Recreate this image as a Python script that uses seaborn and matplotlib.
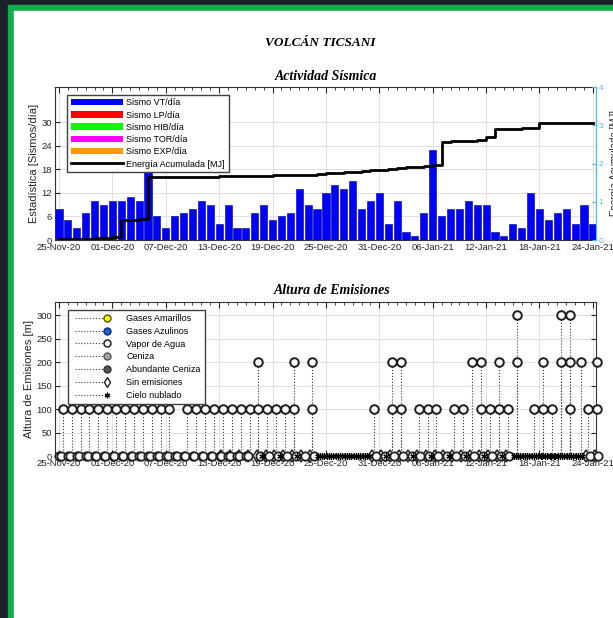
import matplotlib
matplotlib.use("Agg")
import matplotlib.pyplot as plt
from matplotlib.patches import Rectangle, Patch
from matplotlib.lines import Line2D
from matplotlib.legend_handler import HandlerLine2D
import seaborn as sns
import pandas as pd
import numpy as np

# ---- data ----
dates = pd.date_range("2020-11-25", "2021-01-24", freq="D")
date_labels = [d.strftime("%d-%b-%y") for d in dates]

vt_per_day = [8, 5, 3, 7, 10, 9, 10, 10, 11, 10, 19, 6, 3, 6, 7, 8, 10, 9, 4, 9,
              3, 3, 7, 9, 5, 6, 7, 13, 9, 8, 12, 14, 13, 15, 8, 10, 12, 4, 10, 2,
              1, 7, 23, 6, 8, 8, 10, 9, 9, 2, 1, 4, 3, 12, 8, 5, 7, 8, 4, 9, 4]

energy_mj = [0.02, 0.02, 0.03, 0.03, 0.04, 0.05, 0.09, 0.52, 0.53, 0.55,
             1.64, 1.64, 1.65, 1.65, 1.65, 1.66, 1.66, 1.66, 1.67, 1.67,
             1.67, 1.68, 1.68, 1.68, 1.69, 1.69, 1.70, 1.70, 1.71, 1.72,
             1.74, 1.75, 1.77, 1.79, 1.81, 1.83, 1.84, 1.86, 1.89, 1.90,
             1.92, 1.93, 1.97, 2.57, 2.58, 2.59, 2.60, 2.61, 2.68, 2.89,
             2.90, 2.91, 2.92, 2.94, 3.05, 3.05, 3.05, 3.05, 3.06, 3.06, 3.06]

# water vapour plumes (day index from 25-Nov-20) by height
vapor_100_days = [0, 1, 2, 3, 4, 5, 6, 7, 8, 9, 10, 11, 12, 14, 15, 16, 17, 18, 19, 20,
                  21, 22, 23, 24, 25, 26, 28, 35, 37, 38, 40, 41, 42, 44, 45, 47, 48,
                  49, 50, 53, 54, 55, 57, 59, 60]
vapor_200_days = [22, 26, 28, 37, 38, 46, 47, 49, 51, 54, 56, 57, 58.3, 60]
vapor_300_days = [51, 56, 57]
report_hour = 10

# zero-height reports
vapor_zero_early_days = [0, 1, 2, 3, 4, 5, 6, 7, 8, 9, 10, 11, 12, 13, 14, 15, 16, 17,
                         18, 19, 20, 21]
vapor_zero_hours = [1, 5]
vapor_zero_late_days = [22, 23, 24, 25, 26, 27, 28, 35, 36, 37, 38, 39, 40, 41, 42, 43,
                        44, 45, 46, 47, 48, 49, 50, 59, 60]
sin_emision_days = [18, 19, 20, 21, 22, 23, 24, 25, 26, 27, 28, 35, 36, 37, 38, 39, 40,
                    41, 42, 43, 44, 45, 46, 47, 48, 49, 50, 59, 60]
nublado_dense_days = [29, 30, 31, 32, 33, 34, 51, 52, 53, 54, 55, 56, 57, 58]
nublado_sparse_days = [22, 24, 26, 36, 39, 41, 43, 45, 47, 49]
nublado_hours = [3, 8, 14, 19]

legend_sismo = ["Sismo VT/día", "Sismo LP/día", "Sismo HIB/día", "Sismo TOR/día", "Sismo EXP/día"]
sismo_colors = ["#0000ff", "#ff0000", "#00ff00", "#ff00ff", "#ff9900"]


class StemHandler(HandlerLine2D):
    # dotted stem with the marker only at the right end, like MATLAB stem legends
    def create_artists(self, legend, orig_handle, xdescent, ydescent, width, height,
                       fontsize, trans):
        arts = super().create_artists(legend, orig_handle, xdescent, ydescent, width,
                                      height, fontsize, trans)
        for a in arts:
            if isinstance(a, Line2D):
                a.set_markevery([len(a.get_xdata()) - 1])
        return arts


# ---- figure ----
plt.rcParams["font.family"] = ["Liberation Sans", "DejaVu Sans"]
W, H = 613, 618
fig = plt.figure(figsize=(W / 100, H / 100), dpi=100)
fig.patch.set_facecolor("#1b202b")
fig.add_artist(Rectangle((8 / W, 0), 1, 1 - 4.5 / H, transform=fig.transFigure,
                         color="#14ad4c", zorder=-10))
fig.add_artist(Rectangle((14 / W, 0), 1, 1 - 11 / H, transform=fig.transFigure,
                         color="white", zorder=-9))

serif = dict(family="Liberation Serif", weight="bold", style="italic", ha="center", va="center")
fig.text(320 / W, 1 - 43 / H, "VOLCÁN TICSANI", fontsize=9.5, **serif)
fig.text(326 / W, 1 - 76 / H, "Actividad Sísmica", fontsize=10, **serif)
fig.text(332 / W, 1 - 291 / H, "Altura de Emisiones", fontsize=10, **serif)

ax1 = fig.add_axes([55 / W, 1 - 240 / H, 541 / W, 153 / H])
ax2 = fig.add_axes([55 / W, 1 - 456 / H, 541 / W, 154 / H])

days = np.arange(len(dates))
tick_color = "#262626"
grid_kw = dict(color="#dcdcdc", linewidth=0.6)
right_color = "#4DBEEE"

# top: daily seismic counts
sns.barplot(x=days, y=vt_per_day, native_scale=True, color="#0000ff", saturation=1,
            width=0.8, edgecolor="#00008b", linewidth=0.4, ax=ax1)
ax1.set_axisbelow(True)
ax1.grid(True, **grid_kw)
ax1.set_ylim(0, 39)
ax1.set_yticks(range(0, 31, 6))
ax1.set_ylabel("Estadística [Sismos/día]", fontsize=8, color=tick_color, labelpad=2)

ax1b = ax1.twinx()
sns.lineplot(x=days, y=energy_mj, ax=ax1b, color="black", linewidth=2,
             drawstyle="steps-post")
ax1b.set_ylim(0, 4)
ax1b.set_yticks(range(0, 5))
ax1b.tick_params(axis="y", colors=right_color, labelsize=6, direction="in", length=3, pad=2)
ax1b.spines["right"].set_color(right_color)
ax1b.set_ylabel("Energía Acumulada [MJ]", fontsize=7, color=tick_color, labelpad=5)

handles = [Patch(facecolor=c, edgecolor="none") for c in sismo_colors]
handles.append(Line2D([0], [0], color="black", linewidth=2))
ax1b.legend(handles, legend_sismo + ["Energía Acumulada [MJ]"], loc="upper left",
            bbox_to_anchor=(0.022, 0.95), borderaxespad=0, fontsize=6.5,
            handlelength=5.8, handleheight=0.75, handletextpad=0.4, labelspacing=0.36,
            fancybox=False, framealpha=1, edgecolor="#404040", borderpad=0.4)

# bottom: emission heights
def at_hours(day_list, hours):
    return [d + h / 24 for d in day_list for h in hours]

v_x = [d + report_hour / 24 for d in vapor_100_days + vapor_200_days + vapor_300_days]
v_y = [100] * len(vapor_100_days) + [200] * len(vapor_200_days) + [300] * len(vapor_300_days)
vapor = pd.DataFrame({"t": v_x, "h": v_y})

ax2.vlines(vapor["t"], 0, vapor["h"], linestyles=":", colors="#3a3a3a", linewidth=0.8)
zero_v = at_hours(vapor_zero_early_days, vapor_zero_hours) + at_hours(vapor_zero_late_days, [15])
ax2.plot(at_hours(sin_emision_days, [5]), [0] * len(sin_emision_days), ls="none",
         marker="d", ms=6, mfc="white", mec="#222222", mew=1.1, clip_on=False, zorder=3)
ax2.plot(zero_v, [0] * len(zero_v), ls="none", marker="o", ms=6, mfc="white",
         mec="#222222", mew=1.3, clip_on=False, zorder=3)
cloud = at_hours(nublado_dense_days, nublado_hours) + at_hours(nublado_sparse_days, [19])
ax2.plot(cloud, [0] * len(cloud), ls="none", marker=(6, 2, 0), ms=4.5, color="black",
         mew=0.9, clip_on=False, zorder=4)
sns.scatterplot(data=vapor, x="t", y="h", marker="o", s=38, color="white",
                edgecolor="#1e1e1e", linewidth=1.4, clip_on=False, zorder=5, ax=ax2)

ax2.set_ylim(0, 328)
ax2.set_yticks(range(0, 301, 50))
ax2.set_xlabel("")
ax2.set_ylabel("Altura de Emisiones [m]", fontsize=8, color=tick_color, labelpad=2)
ax2.grid(True, **grid_kw)
ax2.set_axisbelow(True)

stem_kw = dict(color="#3a3a3a", linestyle=":", linewidth=0.8)
em_handles = [
    Line2D([0, 1], [0, 0], marker="o", mfc="#ffff00", mec="#555500", ms=5, **stem_kw),
    Line2D([0, 1], [0, 0], marker="o", mfc="#1f5fd6", mec="#0a2a80", ms=5, **stem_kw),
    Line2D([0, 1], [0, 0], marker="o", mfc="white", mec="#222222", mew=1.1, ms=5, **stem_kw),
    Line2D([0, 1], [0, 0], marker="o", mfc="#a8a8a8", mec="#555555", ms=5, **stem_kw),
    Line2D([0, 1], [0, 0], marker="o", mfc="#555555", mec="#333333", ms=5, **stem_kw),
    Line2D([0, 1], [0, 0], marker="d", mfc="white", mec="#222222", ms=5.5, **stem_kw),
    Line2D([0, 1], [0, 0], marker=(6, 2, 0), mec="black", ms=4, mew=0.9, **stem_kw),
]
em_labels = ["Gases Amarillos", "Gases Azulinos", "Vapor de Agua", "Ceniza",
             "Abundante Ceniza", "Sin emisiones", "Cielo nublado"]
ax2.legend(em_handles, em_labels, loc="upper left", bbox_to_anchor=(0.024, 0.948),
           borderaxespad=0, fontsize=6.5, numpoints=2, handlelength=4.2,
           handletextpad=1.8, labelspacing=0.42, fancybox=False, framealpha=1,
           edgecolor="#404040", borderpad=0.45,
           handler_map={Line2D: StemHandler(numpoints=2)})

for ax in (ax1, ax2):
    ax.set_xlim(-0.45, 60.35)
    ax.set_xticks(days[::6])
    ax.set_xticklabels(date_labels[::6])
    ax.set_xticks(days, minor=True)
    ax.tick_params(axis="both", which="both", direction="in", top=True,
                   labelsize=6.8, colors=tick_color, pad=2)
    ax.tick_params(axis="x", which="major", length=4)
    ax.tick_params(axis="x", which="minor", length=2)
    for s in ax.spines.values():
        s.set_color("#333333")
        s.set_linewidth(0.8)
ax2.tick_params(right=True)
ax1b.spines["right"].set_color(right_color)
ax1b.spines["left"].set_visible(False)
ax1b.spines["top"].set_visible(False)
ax1b.spines["bottom"].set_visible(False)

fig.savefig("out.png", dpi=100, facecolor=fig.get_facecolor())
